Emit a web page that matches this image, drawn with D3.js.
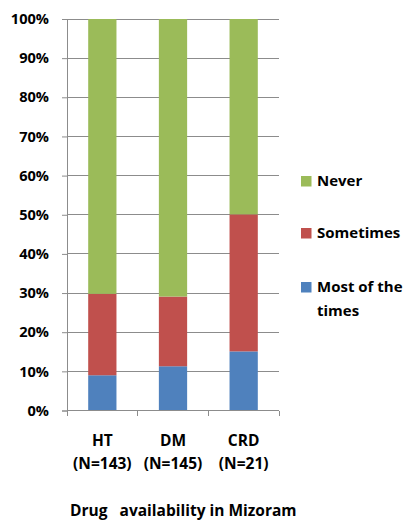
<!DOCTYPE html>
<html>
<head>
<meta charset="utf-8">
<script src="https://cdn.jsdelivr.net/npm/d3@7"></script>
<style>
  html, body { margin: 0; padding: 0; background: #fff; }
  text { font-family: "Open Sans", sans-serif; font-weight: bold; fill: #000; }
</style>
</head>
<body>
<script>
// Drug availability by condition (share of respondents, %)
const categories = ["HT", "DM", "CRD"];
const sampleSizes = ["(N=143)", "(N=145)", "(N=21)"];
const seriesNames = ["Most of the times", "Sometimes", "Never"];
const mostOfTheTimes = [9, 11.3, 15.1];
const sometimes = [20.8, 17.8, 35.0];
const never = [70.2, 70.9, 49.9];
const yTicks = [0, 10, 20, 30, 40, 50, 60, 70, 80, 90, 100];
const colors = ["#4F81BD", "#C0504D", "#9BBB59"];
const title = "Drug   availability in Mizoram";

const W = 409, H = 524;
const plot = { left: 67, right: 279, top: 19, bottom: 410.5 };

const svg = d3.select("body").append("svg").attr("width", W).attr("height", H);

const x = d3.scaleBand().domain(categories).range([plot.left, plot.right]).paddingInner(0).paddingOuter(0);
const y = d3.scaleLinear().domain([0, 100]).range([plot.bottom, plot.top]);

// horizontal gridlines
svg.append("g").selectAll("line").data(yTicks.filter(d => d > 0)).join("line")
  .attr("x1", plot.left).attr("x2", plot.right)
  .attr("y1", d => y(d)).attr("y2", d => y(d))
  .attr("stroke", "#8c8c8c").attr("stroke-width", 1).attr("shape-rendering", "crispEdges");

// stacked bars
const rows = categories.map((c, i) => ({ cat: c, "Most of the times": mostOfTheTimes[i], "Sometimes": sometimes[i], "Never": never[i] }));
const stack = d3.stack().keys(seriesNames)(rows);
const bw = x.bandwidth() * 0.4;
svg.append("g").selectAll("g").data(stack).join("g")
  .attr("fill", (d, i) => colors[i])
  .selectAll("rect").data(d => d).join("rect")
  .attr("x", d => x(d.data.cat) + (x.bandwidth() - bw) / 2)
  .attr("width", bw)
  .attr("y", d => y(d[1]))
  .attr("height", d => y(d[0]) - y(d[1]));

// y axis
const yAxis = d3.axisLeft(y).tickValues(yTicks).tickFormat(d => d + "%").tickSize(5).tickPadding(13);
const gy = svg.append("g").attr("transform", `translate(${plot.left},0)`).call(yAxis);
gy.select(".domain").attr("stroke", "#8c8c8c");
gy.selectAll(".tick line").attr("stroke", "#8c8c8c");
gy.selectAll(".tick text").style("font-size", "14.6px").style("font-family", "'Open Sans', sans-serif").style("font-weight", "bold").attr("fill", "#000");

// x axis: ticks at category boundaries
svg.append("line").attr("x1", plot.left).attr("x2", plot.right).attr("y1", plot.bottom).attr("y2", plot.bottom)
  .attr("stroke", "#8c8c8c").attr("shape-rendering", "crispEdges");
const bounds = categories.map(c => x(c)).concat([plot.right]);
svg.append("g").selectAll("line").data(bounds).join("line")
  .attr("x1", d => d).attr("x2", d => d).attr("y1", plot.bottom).attr("y2", plot.bottom + 5)
  .attr("stroke", "#8c8c8c").attr("shape-rendering", "crispEdges");

const xl = svg.append("g");
xl.selectAll("text.cat").data(categories).join("text").attr("class", "cat")
  .attr("x", d => x(d) + x.bandwidth() / 2).attr("y", 446).attr("text-anchor", "middle")
  .style("font-size", "15.5px").text(d => d);
xl.selectAll("text.n").data(sampleSizes).join("text").attr("class", "n")
  .attr("x", (d, i) => x(categories[i]) + x.bandwidth() / 2).attr("y", 469).attr("text-anchor", "middle")
  .style("font-size", "15.5px").text(d => d);

svg.append("text").attr("x", 70).attr("y", 516).style("font-size", "15.5px")
  .attr("xml:space", "preserve").style("white-space", "pre").text(title);

// legend (top to bottom: Never, Sometimes, Most of the times)
const legendItems = [
  { lines: ["Never"], color: colors[2], y: 176 },
  { lines: ["Sometimes"], color: colors[1], y: 228 },
  { lines: ["Most of the", "times"], color: colors[0], y: 282 }
];
const lg = svg.append("g");
legendItems.forEach(it => {
  lg.append("rect").attr("x", 301).attr("y", it.y).attr("width", 10.5).attr("height", 10.5).attr("fill", it.color);
  it.lines.forEach((t, j) => {
    lg.append("text").attr("x", 317).attr("y", it.y + 10 + j * 24).style("font-size", "15px").text(t);
  });
});
</script>
</body>
</html>
